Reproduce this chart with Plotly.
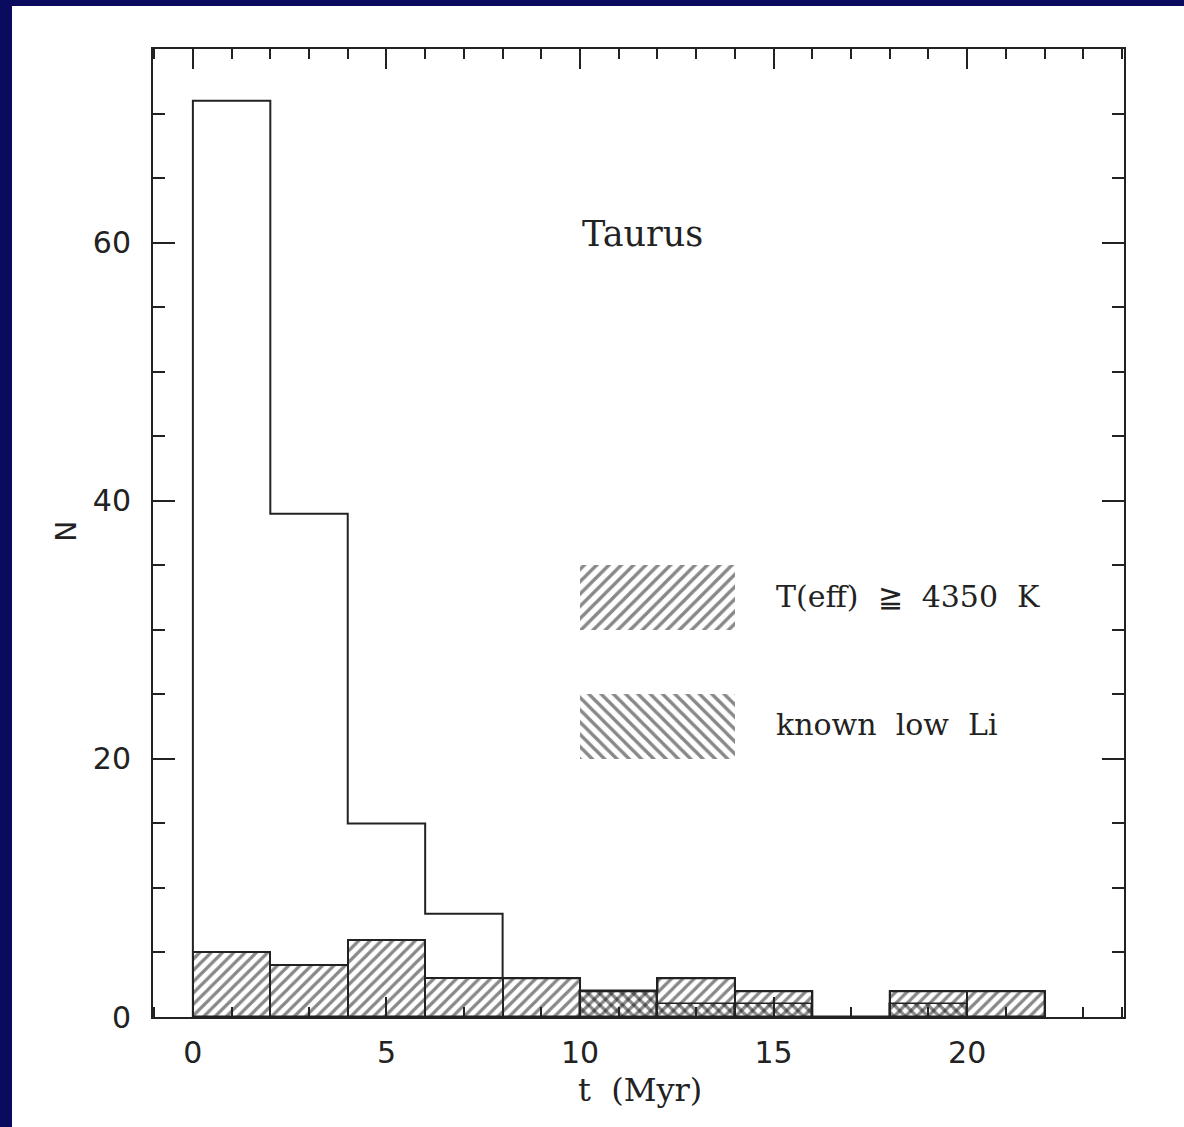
import plotly.graph_objects as go

# Age histogram of Taurus members, 2 Myr bins starting at t = 0
bin_edges = [0, 2, 4, 6, 8, 10, 12, 14, 16, 18, 20, 22]
n_all = [71, 39, 15, 8, 3, 2, 3, 2, 0, 2, 2]
n_hot = [5, 4, 6, 3, 3, 2, 3, 2, 0, 2, 2]       # T(eff) >= 4350 K
n_lowli = [0, 0, 0, 0, 0, 2, 1, 1, 0, 1, 0]     # known low Li

x_ticks = [0, 5, 10, 15, 20]
y_ticks = [0, 20, 40, 60]

INK = "#222222"
HATCH_INK = "#111111"
NAVY = "#0a0b5e"
HATCH = 8

centers = [(a + b) / 2 for a, b in zip(bin_edges[:-1], bin_edges[1:])]
widths = [b - a for a, b in zip(bin_edges[:-1], bin_edges[1:])]

fig = go.Figure()

# hatched: stars with T(eff) >= 4350 K
fig.add_trace(go.Bar(
    x=centers, y=n_hot, width=widths,
    marker=dict(color="white", line=dict(color=INK, width=2),
                pattern=dict(shape="/", fgcolor=HATCH_INK, bgcolor="white",
                             size=HATCH, solidity=0.4)),
    showlegend=False,
))
# back-hatched overlay: known low-Li stars (cross-hatch where both apply)
fig.add_trace(go.Bar(
    x=centers, y=n_lowli, width=widths,
    marker=dict(color="rgba(0,0,0,0)", line=dict(color=INK, width=1.5),
                pattern=dict(shape="\\", fgcolor=HATCH_INK, bgcolor="rgba(0,0,0,0)",
                             size=HATCH, solidity=0.4, fillmode="overlay")),
    showlegend=False,
))

# open outline of the full sample
step_x = [bin_edges[0]] + bin_edges
step_y = [0] + n_all + [0]
fig.add_trace(go.Scatter(
    x=step_x, y=step_y, mode="lines", line=dict(shape="hv", color=INK, width=2),
    showlegend=False, hoverinfo="skip",
))

# key swatches
key_x, key_w, key_h = 12, 4, 5
for base, shape in [(30, "/"), (20, "\\")]:
    fig.add_trace(go.Bar(
        x=[key_x], y=[key_h], base=[base], width=[key_w],
        marker=dict(color="white", line=dict(width=0),
                    pattern=dict(shape=shape, fgcolor=HATCH_INK, bgcolor="white",
                                 size=HATCH + 0.7, solidity=0.4)),
        showlegend=False,
    ))

serif = "DejaVu Serif"
sans = "DejaVu Sans"

annotations = [
    dict(x=10, y=60.7, text="Taurus", xanchor="left", yanchor="middle",
         font=dict(family=serif, size=35, color=INK)),
    dict(x=15, y=32.6, text="T(eff)  \u2267  4350  K", xanchor="left", yanchor="middle",
         font=dict(family=serif, size=30, color=INK)),
    dict(x=15, y=22.7, text="known  low  Li", xanchor="left", yanchor="middle",
         font=dict(family=serif, size=30, color=INK)),
    dict(x=0.502, y=-0.075, xref="paper", yref="paper", text="t  (Myr)",
         xanchor="center", yanchor="middle",
         font=dict(family=serif, size=32, color=INK)),
    dict(x=-0.09, y=0.502, xref="paper", yref="paper", text="N", textangle=-90,
         xanchor="center", yanchor="middle",
         font=dict(family=sans, size=28, color=INK)),
]
for a in annotations:
    a.setdefault("xref", "x")
    a.setdefault("yref", "y")
    a["showarrow"] = False

fig.update_layout(
    width=1184, height=1127,
    margin=dict(l=153, r=60, t=49, b=110),
    paper_bgcolor=NAVY, plot_bgcolor="white",
    barmode="overlay", bargap=0,
    annotations=annotations,
    shapes=[dict(type="rect", xref="paper", yref="paper",
                 x0=-0.1452, x1=1.2, y0=-0.3, y1=1.0444,
                 fillcolor="white", line=dict(width=0), layer="below")],
    xaxis=dict(range=[-1.03, 24.05], tickvals=x_ticks, ticks="inside", ticklen=20,
               tickwidth=2, tickcolor=INK, showline=True, linecolor=INK, linewidth=2,
               mirror="ticks", showgrid=False, zeroline=False,
               minor=dict(dtick=1, tick0=0, ticks="inside", ticklen=10, tickwidth=2,
                          tickcolor=INK, showgrid=False),
               tickfont=dict(family=sans, size=30, color=INK), ticklabelstandoff=8),
    yaxis=dict(range=[0, 75], tickvals=y_ticks, ticks="inside", ticklen=22,
               tickwidth=2, tickcolor=INK, showline=True, linecolor=INK, linewidth=2,
               mirror="ticks", showgrid=False, zeroline=False,
               minor=dict(dtick=5, tick0=0, ticks="inside", ticklen=12, tickwidth=2,
                          tickcolor=INK, showgrid=False),
               tickfont=dict(family=sans, size=30, color=INK), ticklabelstandoff=14),
)

fig.write_html("out.html")
